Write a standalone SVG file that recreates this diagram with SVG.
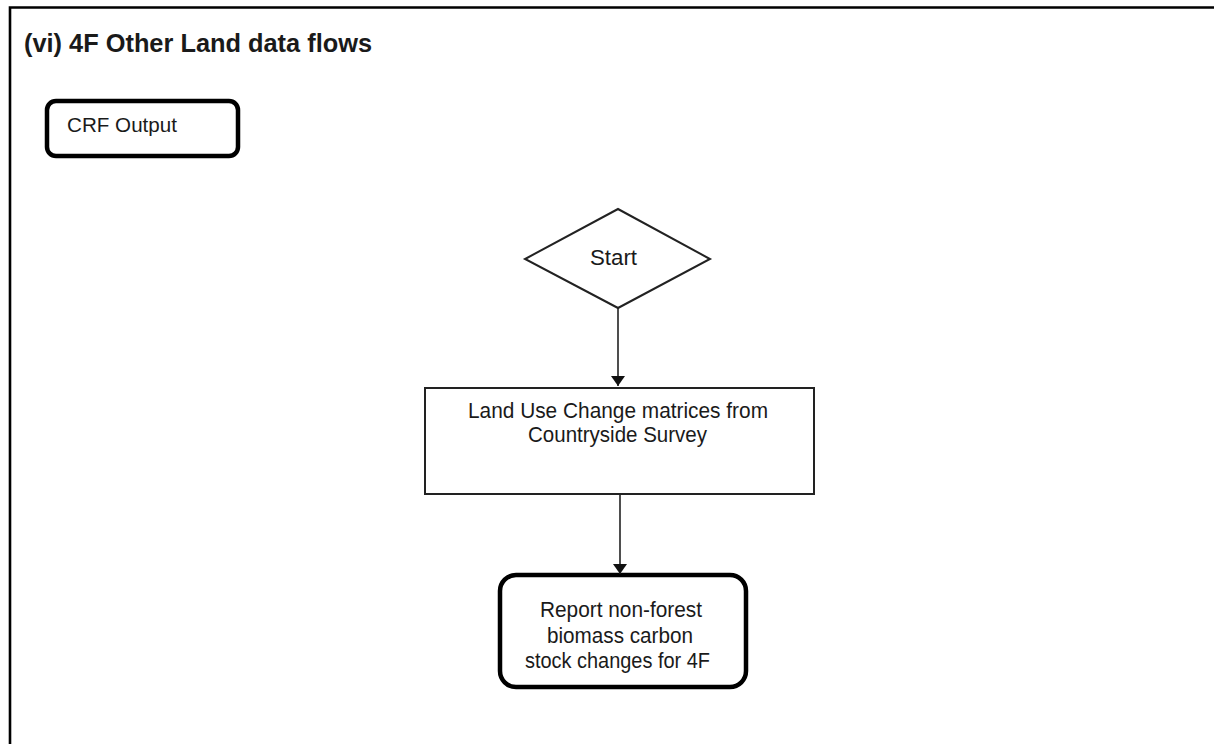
<svg xmlns="http://www.w3.org/2000/svg" width="1214" height="744" viewBox="0 0 1214 744">
<style>
text{font-family:"Liberation Sans",Arial,sans-serif;fill:#1a1a1a}
.t{font-size:22px;text-anchor:middle}
.thick{fill:#fff;stroke:#000;stroke-width:4.5}
.thin{fill:#fff;stroke:#222;stroke-width:2}
.edge{stroke:#222;stroke-width:1.6;fill:none;marker-end:url(#ah)}
</style>
<defs>
<marker id="ah" markerWidth="10" markerHeight="14" refX="10" refY="5" orient="auto" markerUnits="userSpaceOnUse" viewBox="0 0 10 10" preserveAspectRatio="none">
<path d="M0,0 L10,5 L0,10 Z" fill="#111"/>
</marker>
</defs>
<rect width="1214" height="744" fill="#fff"/>
<g id="frame">
<path d="M10,744 V7.5 H1214" fill="none" stroke="#000" stroke-width="2.6"/>
</g>
<text x="24" y="52" font-size="26" font-weight="bold" textLength="348" lengthAdjust="spacingAndGlyphs">(vi) 4F Other Land data flows</text>
<g id="crf-output">
<rect class="thick" x="47" y="101" width="191" height="55" rx="9"/>
<text x="67" y="132" font-size="21" textLength="110" lengthAdjust="spacingAndGlyphs">CRF Output</text>
</g>
<g id="start">
<polygon class="thin" points="618,209 710,259 618,308 525,259"/>
<text class="t" x="613.5" y="265" font-size="23" textLength="47" lengthAdjust="spacingAndGlyphs">Start</text>
</g>
<g id="land-use">
<rect class="thin" x="425" y="388" width="389" height="106"/>
<text class="t" x="618" y="418" textLength="300" lengthAdjust="spacingAndGlyphs">Land Use Change matrices from</text>
<text class="t" x="617.5" y="442" textLength="179" lengthAdjust="spacingAndGlyphs">Countryside Survey</text>
</g>
<g id="report">
<rect class="thick" x="500" y="575" width="246" height="112" rx="16"/>
<text class="t" x="621" y="617" textLength="162" lengthAdjust="spacingAndGlyphs">Report non-forest</text>
<text class="t" x="620" y="643" textLength="146" lengthAdjust="spacingAndGlyphs">biomass carbon</text>
<text class="t" x="617.5" y="668" textLength="185" lengthAdjust="spacingAndGlyphs">stock changes for 4F</text>
</g>
<g id="connectors">
<path class="edge" d="M618,308 V386"/>
<path class="edge" d="M620,494 V574"/>
</g>
</svg>
